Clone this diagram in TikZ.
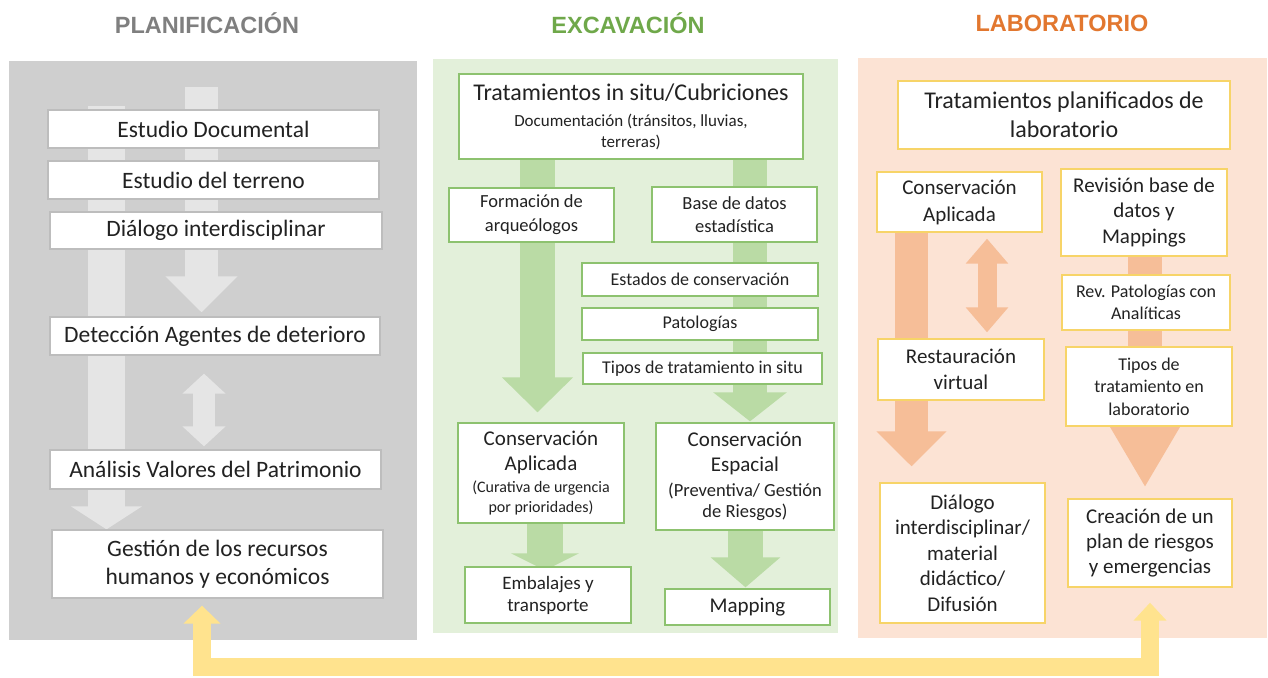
\documentclass[tikz,border=0pt]{standalone}
\usepackage{fontspec}
\setmainfont{Carlito}
\newfontfamily\hfont{Liberation Sans}
\usetikzlibrary{arrows.meta}
\pgfdeclarelayer{panels}
\pgfdeclarelayer{arrows}
\pgfsetlayers{panels,arrows,main}
\definecolor{txt}{HTML}{222222}
\definecolor{gpanel}{HTML}{CFCFCF}
\definecolor{garr}{HTML}{E5E5E5}
\definecolor{gborder}{HTML}{BDBDBD}
\definecolor{epanel}{HTML}{E3F0DA}
\definecolor{earr}{HTML}{BADBA5}
\definecolor{eborder}{HTML}{8DC26F}
\definecolor{lpanel}{HTML}{FCE3D4}
\definecolor{larr}{HTML}{F6BE98}
\definecolor{lborder}{HTML}{F7D468}
\definecolor{yarr}{HTML}{FFE38E}
\definecolor{hgray}{HTML}{7F7F7F}
\definecolor{hgreen}{HTML}{6FA84A}
\definecolor{horange}{HTML}{E2772F}
\newcommand{\fs}[2]{\fontsize{#1}{#2}\selectfont}
\tikzset{
  box/.style={draw, fill=white, align=center, text=txt, inner sep=2pt, line width=1.3pt},
  gbox/.style={box, draw=gborder, font=\fs{23.5}{28}},
  ebox/.style={box, draw=eborder},
  lbox/.style={box, draw=lborder},
  head/.style={font=\hfont\bfseries\fs{23.5}{27}},
  blk/.style n args={4}{draw=#1, line width=#2, -{Triangle[width=#3,length=#4]}},
  dblk/.style n args={4}{draw=#1, line width=#2, {Triangle[width=#3,length=#4]}-{Triangle[width=#3,length=#4]}},
}
\begin{document}
\begin{tikzpicture}[x=1pt,y=-1pt]
\useasboundingbox (0,0) rectangle (1268,677);
% headings
\node[head, text=hgray] (h1) at (207,23) {PLANIFICACIÓN};
\node[head, text=hgreen] (h2) at (628,23) {EXCAVACIÓN};
\node[head, text=horange] (h3) at (1062,23) {LABORATORIO};
% panels
\begin{pgfonlayer}{panels}
\fill[gpanel] (9,61) rectangle (417,640);
\fill[epanel] (433,59) rectangle (838,633);
\fill[lpanel] (858,58) rectangle (1267,638);
\end{pgfonlayer}
% ---------- PLANIFICACION ----------
\node[gbox, minimum width=331pt, minimum height=38pt] (doc) at (213.5,129) {Estudio Documental};
\node[gbox, minimum width=331pt, minimum height=38pt] (terr) at (213.5,180) {Estudio del terreno};
\node[gbox, minimum width=332pt, minimum height=37pt] (dial) at (216,230.5) {Diálogo interdisciplinar};
\node[gbox, minimum width=330pt, minimum height=38pt] (det) at (215,336) {Detección Agentes de deterioro};
\node[gbox, minimum width=331pt, minimum height=39pt] (anal) at (215.5,469.5) {Análisis Valores del Patrimonio};
\node[gbox, minimum width=331pt, minimum height=68pt] (gest) at (217.5,564) {Gestión de los recursos\\humanos y económicos};
% ---------- EXCAVACION ----------
\node[ebox, minimum width=344pt, minimum height=85pt, font=\fs{17}{21}] (trat) at (631,116.5)
  {{\fs{24}{26}Tratamientos in situ/Cubriciones}\\[5pt]Documentación (tránsitos, lluvias,\\terreras)};
\node[ebox, minimum width=165pt, minimum height=54pt, font=\fs{18.5}{24}] (form) at (531.5,215) {Formación de\\arqueólogos};
\node[ebox, minimum width=165pt, minimum height=55pt, font=\fs{18.5}{23}] (base) at (734.5,214.5) {Base de datos\\estadística};
\node[ebox, minimum width=236pt, minimum height=33pt, font=\fs{18}{22}] (est) at (700,279.5) {Estados de conservación};
\node[ebox, minimum width=236pt, minimum height=32pt, font=\fs{18}{22}] (pat) at (700,324) {Patologías};
\node[ebox, minimum width=239pt, minimum height=31pt, font=\fs{18}{22}] (tipos) at (702.5,368.5) {Tipos de tratamiento in situ};
\node[ebox, minimum width=166pt, minimum height=100pt, font=\fs{16}{19.5}] (capl) at (541,473)
  {{\fs{21}{25}Conservación}\\[5.5pt]{\fs{21}{25}Aplicada}\\[2.5pt](Curativa de urgencia\\por prioridades)};
\node[ebox, minimum width=178pt, minimum height=107pt, font=\fs{18.5}{21}] (cesp) at (745,476.5)
  {{\fs{21}{25}Conservación}\\[4pt]{\fs{21}{25}Espacial}\\[4pt](Preventiva/ Gestión\\de Riesgos)};
\node[ebox, minimum width=166pt, minimum height=56pt, font=\fs{19}{22}] (emb) at (548,595) {Embalajes y\\transporte};
\node[ebox, minimum width=165pt, minimum height=36pt, font=\fs{21}{25}] (map) at (747.5,607) {Mapping};
% ---------- LABORATORIO ----------
\node[lbox, minimum width=332pt, minimum height=68pt, font=\fs{24}{29.5}] (tpl) at (1064,115) {Tratamientos planificados de\\laboratorio};
\node[lbox, minimum width=165pt, minimum height=60pt, font=\fs{21}{27}] (oca) at (959.5,202) {Conservación\\Aplicada};
\node[lbox, minimum width=166pt, minimum height=87pt, font=\fs{21}{25.5}] (rev) at (1144,212.5) {Revisión base de\\datos y\\Mappings};
\node[lbox, minimum width=168pt, minimum height=55pt, font=\fs{18}{22}] (revpat) at (1146,302.5) {Rev. Patologías con\\Analíticas};
\node[lbox, minimum width=166pt, minimum height=61pt, font=\fs{21}{26}] (rest) at (961,369.5) {Restauración\\virtual};
\node[lbox, minimum width=166pt, minimum height=79pt, font=\fs{18}{22.5}] (ttl) at (1149,386.5) {Tipos de\\tratamiento en\\laboratorio};
\node[lbox, minimum width=165pt, minimum height=140pt, font=\fs{21}{25.5}] (dlg) at (962.5,553) {Diálogo\\interdisciplinar/\\material\\didáctico/\\Difusión};
\node[lbox, minimum width=164pt, minimum height=88pt, font=\fs{21}{25}] (crea) at (1150,543) {Creación de un\\plan de riesgos\\y emergencias};
% ---------- block arrows ----------
\coordinate (gA) at (106.5,106);
\coordinate (gB) at (201.5,87);
\coordinate (gC) at (204,0);
\coordinate (eA) at (537.5,0);
\coordinate (eB) at (750,0);
\coordinate (eC) at (545,0);
\coordinate (eD) at (745.5,0);
\coordinate (lA) at (911.5,0);
\coordinate (lB) at (987,0);
\coordinate (lC) at (1145,0);
\coordinate (yR) at (1150,667);
\coordinate (yL) at (202,667);
\begin{pgfonlayer}{arrows}
\draw[blk={garr}{37pt}{70pt}{23pt}] (gA) -- (gA |- gest.north);
\draw[blk={garr}{33pt}{70pt}{36pt}, shorten >=4pt] (gB) -- (gB |- det.north);
\draw[dblk={garr}{22pt}{42pt}{20pt}, shorten <=18pt, shorten >=3pt] (gC |- det.south) -- (gC |- anal.north);
\draw[blk={earr}{35pt}{69pt}{35pt}, shorten >=10pt] (eA |- trat.south) -- (eA |- capl.north);
\draw[blk={earr}{34pt}{72pt}{29pt}, shorten >=1pt] (eB |- trat.south) -- (eB |- cesp.north);
\draw[blk={earr}{36pt}{67pt}{17pt}, shorten >=-4pt] (eC |- capl.south) -- (eC |- emb.north);
\draw[blk={earr}{35pt}{68pt}{30pt}, shorten >=1pt] (eD |- cesp.south) -- (eD |- map.north);
\draw[blk={larr}{33pt}{68pt}{35pt}, shorten >=16pt] (lA |- oca.south) -- (lA |- dlg.north);
\draw[dblk={larr}{19pt}{41pt}{25pt}, shorten <=6pt, shorten >=6pt] (lB |- oca.south) -- (lB |- rest.north);
\draw[blk={larr}{34pt}{66pt}{61pt}, shorten >=11pt] (lC |- rev.south) -- (lC |- crea.north);
\end{pgfonlayer}
% ---------- yellow connector ----------
\draw[draw=yarr, line width=18pt, line join=miter,
  {Triangle[width=32pt,length=18pt]}-{Triangle[width=36pt,length=18pt]},
  shorten <=15pt, shorten >=7pt]
  (crea.south) -- (yR) -- (yL) -- (gest.south -| yL);
\end{tikzpicture}
\end{document}
